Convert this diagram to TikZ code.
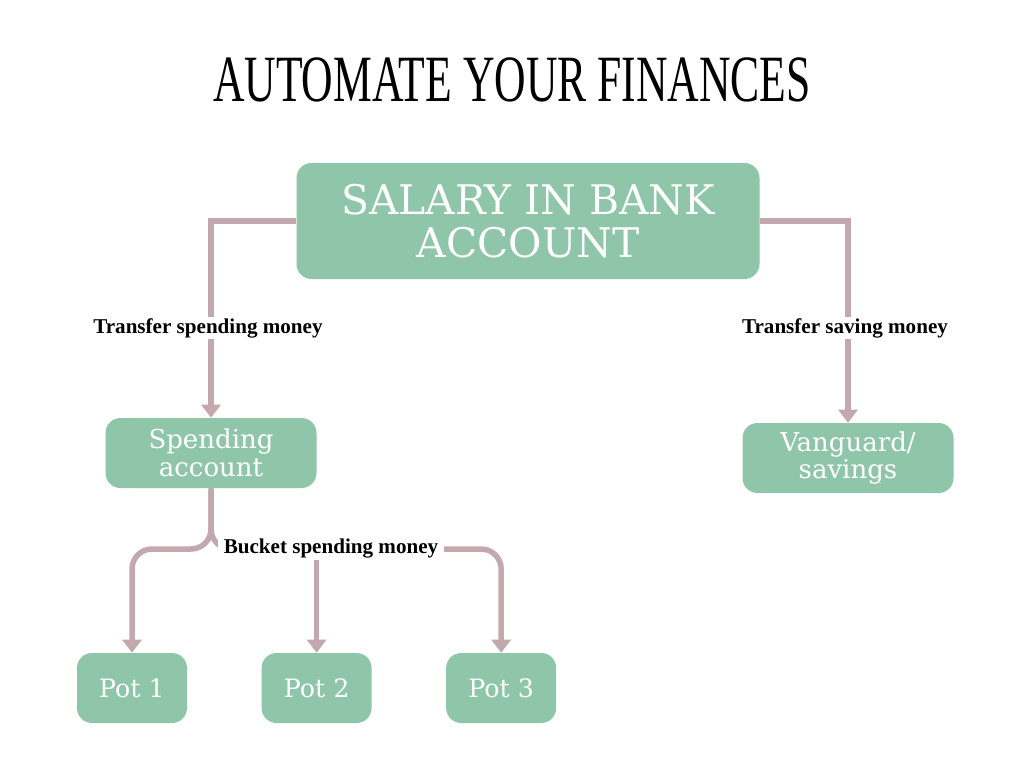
\documentclass[tikz,border=0pt]{standalone}
\usepackage{fontspec}
\setmainfont{DejaVu Serif}
\newfontfamily\tagfont{Liberation Serif}
\newfontfamily\titlefont{Liberation Serif}
\usetikzlibrary{arrows.meta,positioning}
\definecolor{boxgreen}{HTML}{8FC6A9}
\definecolor{linkpink}{HTML}{C3A9AD}
\def \px {0.025cm}
\tikzstyle{account} = [fill=boxgreen,rounded corners=15*\px,text=white,align=center,inner sep=0]
\tikzstyle{pot} = [account,minimum width=110*\px,minimum height=70*\px,font=\fontsize{18}{20}\selectfont]
\tikzstyle{flow} = [draw=linkpink,line width=5.5*\px,-{Triangle[width=0.48cm,length=0.33cm]}]
\tikzstyle{tag} = [fill=white,inner ysep=1*\px,inner xsep=6*\px,font=\tagfont\bfseries\fontsize{15}{17}\selectfont]

\begin{document}
\begin{tikzpicture}[x=\px,y=-\px,node distance=1.85cm]
      \fill[white] (0,0) rectangle (1024,768);
      \useasboundingbox (0,0) rectangle (1024,768);
      % title
      \node (title) at (512,80) {\scalebox{0.66}[1]{\titlefont\fontsize{47}{50}\selectfont AUTOMATE YOUR FINANCES}};
      % accounts
      \node[account,minimum width=463*\px,minimum height=116*\px,font=\fontsize{29}{31}\selectfont] (salary) at (528,221) {SALARY IN BANK\\ACCOUNT};
      \node[account,minimum width=211*\px,minimum height=70*\px,font=\fontsize{18.5}{19.5}\selectfont] (spending) at (211,453) {Spending\\account};
      \node[account,minimum width=211*\px,minimum height=70*\px,font=\fontsize{18.5}{19.5}\selectfont] (vanguard) at (848,458) {Vanguard/\\savings};
      \node[pot] (pot1) at (132,688) {Pot 1};
      \node[pot,right=of pot1] (pot2) {Pot 2};
      \node[pot,right=of pot2] (pot3) {Pot 3};
      % transfers
      \draw[flow] (salary.west) -| (spending.north);
      \draw[flow] (salary.east) -| (vanguard.north);
      \node[tag] at (208,328) {Transfer spending money};
      \node[tag] at (845,328) {Transfer saving money};
      % buckets
      \coordinate (split) at (spending.south |- 0,549);
      \draw[flow,rounded corners=20*\px] (spending.south) -- (split) -| (pot1.north);
      \draw[flow,rounded corners=20*\px] (spending.south) -- (split) -| (pot3.north);
      \draw[flow] (pot2.north |- split) -- (pot2.north);
      \node[tag] at (331,549) {Bucket spending money};
\end{tikzpicture}
\end{document}
